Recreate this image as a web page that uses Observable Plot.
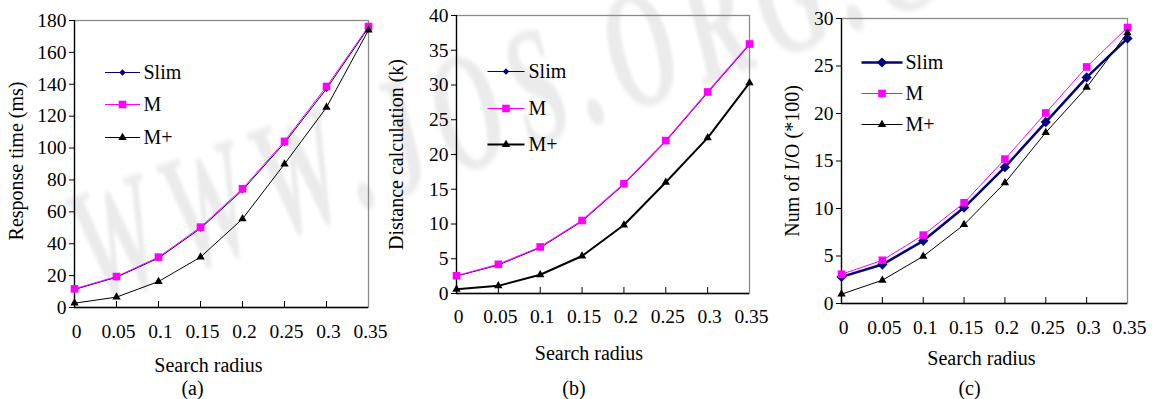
<!DOCTYPE html>
<html><head><meta charset="utf-8">
<script src="https://cdn.jsdelivr.net/npm/d3@7"></script>
<script src="https://cdn.jsdelivr.net/npm/@observablehq/plot@0.6"></script>
<style>
html,body{margin:0;padding:0;background:#fff;}
body{width:1160px;height:399px;overflow:hidden;position:relative;font-family:"Liberation Serif","Times New Roman",serif;}
.panel{position:absolute;top:0;}
#wm{position:absolute;left:76px;top:168px;font:italic bold 170px "Liberation Serif",serif;color:rgba(0,0,0,0.08);transform:rotate(-20deg) scaleX(0.55);transform-origin:left center;filter:blur(2.5px);white-space:nowrap;pointer-events:none;line-height:170px;letter-spacing:25px;}
</style></head><body>
<div id="wm">WWW.JOS.ORG.CN</div>
<div id="a" class="panel" style="left:0px"></div>
<div id="b" class="panel" style="left:385px"></div>
<div id="c" class="panel" style="left:770px"></div>
<script>
// ---- data ----
const radius = [0, 0.05, 0.1, 0.15, 0.2, 0.25, 0.3, 0.35];
const xTickLabels = ["0", "0.05", "0.1", "0.15", "0.2", "0.25", "0.3", "0.35"];
const seriesNames = ["Slim", "M", "M+"];

const slimA  = [11.3, 19.0, 31.0, 49.6, 73.6, 103.2, 137.2, 175.5];
const mA     = [11.7, 19.4, 31.6, 50.4, 74.5, 104.2, 138.6, 176.2];
const mPlusA = [2.7, 6.5, 16.3, 31.6, 55.6, 90.0, 125.5, 174.0];

const slimB  = [2.5, 4.1, 6.6, 10.4, 15.7, 21.9, 28.9, 35.8];
const mB     = [2.55, 4.2, 6.7, 10.5, 15.8, 22.0, 29.0, 35.9];
const mPlusB = [0.6, 1.1, 2.7, 5.4, 9.85, 16.0, 22.4, 30.3];

const slimC  = [2.8, 4.1, 6.6, 10.1, 14.35, 19.1, 23.8, 27.9];
const mC     = [3.08, 4.55, 7.2, 10.6, 15.2, 20.06, 24.9, 29.05];
const mPlusC = [0.98, 2.45, 4.97, 8.3, 12.7, 18.0, 22.75, 28.5];

const yTicksA = [0, 20, 40, 60, 80, 100, 120, 140, 160, 180];
const yTicksB = [0, 5, 10, 15, 20, 25, 30, 35, 40];
const yTicksC = [0, 5, 10, 15, 20, 25, 30];

const yLabels = ["Response time (ms)", "Distance calculation (k)", "Num of I/O (*100)"];
const xLabel = "Search radius";
const captions = ["(a)", "(b)", "(c)"];

// ---- styles ----
const colors = ["#000080", "#ff00ff", "#000000"];
const symbols = ["diamond2", "square", "triangle"];
const FONT = "'Liberation Serif','Times New Roman',serif";

const panels = [
  {id: "a", width: 385, mt: 20, mb: 92, ml: 74, mr: 17, values: [slimA, mA, mPlusA], yDomain: [0, 180], yTicks: yTicksA,
   yLabel: yLabels[0], caption: captions[0], ylx: -58, yly: -3, xlDy: 58, xlDx: -13, capDy: 81, capDx: -29, tickPad: 24,
   lw: [1, 1, 1], r: [2.9, 4.3, 3.1],
   lg: {x: 48, half: 17.5, tx: 69, y: [52, 84, 117]}},
  {id: "b", width: 385, mt: 15, mb: 106, ml: 71, mr: 21, values: [slimB, mB, mPlusB], yDomain: [0, 40], yTicks: yTicksB,
   yLabel: yLabels[1], caption: captions[1], ylx: -60, yly: 0, xlDy: 60, xlDx: -14, capDy: 95, capDx: -29, tickPad: 23,
   lw: [1, 1.2, 2], r: [2.9, 4.3, 3.1],
   lg: {x: 49.5, half: 18.5, tx: 72, y: [56, 93, 129]}},
  {id: "c", width: 390, mt: 18, mb: 96, ml: 71, mr: 33, values: [slimC, mC, mPlusC], yDomain: [0, 30], yTicks: yTicksC,
   yLabel: yLabels[2], caption: captions[2], ylx: -49, yly: 0, xlDy: 55, xlDx: -3, capDy: 85, capDx: -15, tickPad: 24,
   lw: [2.5, 1, 1], r: [4.6, 4.3, 3.1],
   lg: {x: 40.5, half: 20.5, tx: 64, y: [44, 75, 106]}}
];

const lineSymbol = (half) => ({draw(ctx) { ctx.moveTo(-half, 0); ctx.lineTo(half, 0); }});

for (const p of panels) {
  const H = 399;
  const frameH = H - p.mt - p.mb;
  const marks = [
    Plot.frame({stroke: "#8a8a8a", strokeWidth: 1.3}),
    Plot.ruleX([0], {stroke: "#000", strokeWidth: 1.3}),
    Plot.ruleY([0], {stroke: "#000", strokeWidth: 1.3}),
    Plot.tickX(radius.slice(1, -1), {x: d => d, insetTop: frameH - 6, stroke: "#000", strokeWidth: 1}),
    Plot.axisY({ticks: p.yTicks, tickSize: 5, tickPadding: 3, fontSize: 19.5, fontFamily: FONT, label: null, stroke: "#000"}),
    Plot.axisX({ticks: radius, tickSize: 0, tickPadding: p.tickPad, fontSize: 19.5, fontFamily: FONT, dx: 2, label: null,
      lineAnchor: "middle", tickFormat: d => xTickLabels[radius.indexOf(d)]}),
    Plot.text([p.yLabel], {x: null, y: null, frameAnchor: "left", rotate: -90, dx: p.ylx, dy: p.yly, text: d => d,
      textAnchor: "middle", lineAnchor: "middle", fontSize: 20, fontFamily: FONT}),
    Plot.text([xLabel], {x: null, y: null, frameAnchor: "bottom", dx: p.xlDx, dy: p.xlDy, text: d => d,
      textAnchor: "middle", lineAnchor: "middle", fontSize: 20, fontFamily: FONT}),
    Plot.text([p.caption], {x: null, y: null, frameAnchor: "bottom", dx: p.capDx, dy: p.capDy, text: d => d,
      textAnchor: "middle", lineAnchor: "middle", fontSize: 20, fontFamily: FONT})
  ];
  seriesNames.forEach((name, i) => {
    const rows = radius.map((r, j) => ({r, v: p.values[i][j], s: name}));
    marks.push(Plot.line(rows, {x: "r", y: "v", stroke: colors[i], strokeWidth: p.lw[i]}));
    marks.push(Plot.dot(rows, {x: "r", y: "v", symbol: symbols[i], fill: colors[i], stroke: "none", r: p.r[i]}));
  });
  seriesNames.forEach((name, i) => {
    marks.push(Plot.dot([name], {x: null, y: null, frameAnchor: "top-left", dx: p.lg.x, dy: p.lg.y[i],
      symbol: lineSymbol(p.lg.half), fill: "none", stroke: colors[i], strokeWidth: p.lw[i]}));
    marks.push(Plot.dot([name], {x: null, y: null, frameAnchor: "top-left", dx: p.lg.x, dy: p.lg.y[i],
      symbol: symbols[i], fill: colors[i], stroke: "none", r: p.r[i]}));
    marks.push(Plot.text([name], {x: null, y: null, frameAnchor: "top-left", dx: p.lg.tx, dy: p.lg.y[i],
      textAnchor: "start", lineAnchor: "middle", text: d => d, fontSize: 20, fontFamily: FONT}));
  });
  const chart = Plot.plot({
    width: p.width, height: H,
    marginTop: p.mt, marginBottom: p.mb, marginLeft: p.ml, marginRight: p.mr,
    style: {fontFamily: FONT, fontSize: "20px", background: "transparent", color: "#000", overflow: "visible"},
    x: {domain: [0, 0.35]},
    y: {domain: p.yDomain},
    marks
  });
  document.getElementById(p.id).appendChild(chart);
}
</script>
</body></html>
